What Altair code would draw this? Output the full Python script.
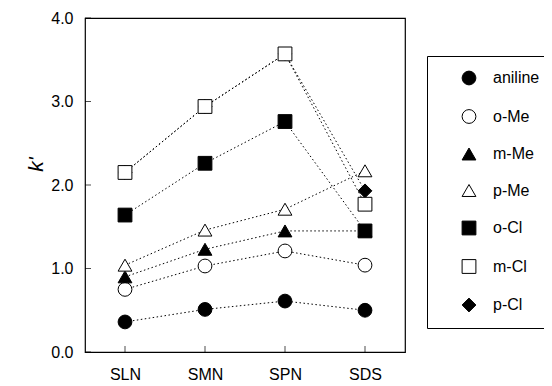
import altair as alt
import pandas as pd

categories = ["SLN", "SMN", "SPN", "SDS"]
series = ["aniline", "o-Me", "m-Me", "p-Me", "o-Cl", "m-Cl", "p-Cl"]
aniline = [0.36, 0.51, 0.61, 0.50]
o_me = [0.75, 1.03, 1.21, 1.04]
m_me = [0.90, 1.23, 1.45, 1.45]
p_me = [1.04, 1.46, 1.71, 2.17]
o_cl = [1.64, 2.26, 2.76, 1.45]
m_cl = [2.15, 2.94, 3.57, 1.77]
p_cl = [2.15, 2.94, 3.57, 1.93]
y_ticks = [0, 1, 2, 3, 4]

values = {"aniline": aniline, "o-Me": o_me, "m-Me": m_me, "p-Me": p_me,
          "o-Cl": o_cl, "m-Cl": m_cl, "p-Cl": p_cl}
draw_order = ["aniline", "o-Me", "m-Me", "p-Me", "o-Cl", "p-Cl", "m-Cl"]
rows = []
for s in draw_order:
    for c, v in zip(categories, values[s]):
        rows.append({"series": s, "cat": c, "k": v})
df = pd.DataFrame(rows)

shapes = ["circle", "circle", "triangle-up", "triangle-up", "square", "square", "diamond"]
fills = ["black", "white", "black", "white", "black", "white", "black"]
strokes = ["black"] * 7
sizes = [190, 190, 200, 200, 165, 165, 240]

xenc = alt.X("cat:N", sort=categories, scale=alt.Scale(type="point", padding=0.5),
             axis=alt.Axis(title=None, ticks=False, domain=False, labelAngle=0,
                           labelPadding=14, labelFontSize=16))
yenc = alt.Y("k:Q", scale=alt.Scale(domain=[0, 4], nice=False, zero=True),
             axis=alt.Axis(title="k'", values=y_ticks, format=".1f", ticks=False,
                           domain=False, grid=False, labelPadding=12, labelFontSize=16,
                           titleFontSize=21, titleFontStyle="italic",
                           titleFontWeight="normal", titleAngle=270,
                           titleX=-49, titleY=146, titleAlign="center",
                           titleBaseline="middle"))

leg = dict(title=None, symbolStrokeWidth=1)

lines = alt.Chart(df).mark_line(color="black", strokeWidth=1, strokeDash=[1.5, 2.5]).encode(
    x=xenc, y=yenc, detail="series:N"
)

points = alt.Chart(df).mark_point(filled=False, strokeWidth=1, opacity=1).encode(
    x=xenc, y=yenc,
    shape=alt.Shape("series:N", scale=alt.Scale(domain=series, range=shapes),
                    legend=alt.Legend(**leg)),
    fill=alt.Fill("series:N", scale=alt.Scale(domain=series, range=fills),
                  legend=alt.Legend(**leg)),
    stroke=alt.Stroke("series:N", scale=alt.Scale(domain=series, range=strokes),
                      legend=alt.Legend(**leg)),
    size=alt.Size("series:N", scale=alt.Scale(domain=series, range=sizes),
                  legend=alt.Legend(**leg)),
)

tick_df = pd.DataFrame({"t": y_ticks})
yticks = alt.Chart(tick_df).mark_tick(orient="horizontal", color="black", thickness=1, size=6).encode(
    y=alt.Y("t:Q", scale=alt.Scale(domain=[0, 4], nice=False)), x=alt.value(3)
)
xt_df = pd.DataFrame({"cat": categories})
xticks = alt.Chart(xt_df).mark_tick(orient="vertical", color="black", thickness=1, size=6).encode(
    x=alt.X("cat:N", sort=categories, scale=alt.Scale(type="point", padding=0.5)),
    y=alt.value(331)
)

chart = alt.layer(lines, yticks, xticks, points).properties(
    width=320, height=334,
    autosize=alt.AutoSizeParams(type="none"),
    padding={"left": 77, "top": 10, "right": 139, "bottom": 32},
).configure_view(stroke="black", strokeWidth=1.2).configure_axis(
    labelFont="Liberation Sans", titleFont="Liberation Sans", labelColor="black",
    titleColor="black"
).configure_legend(
    orient="none", legendX=342, legendY=38, padding=14, strokeColor="black",
    fillColor="white", labelFont="Liberation Sans", labelFontSize=16, labelColor="black",
    rowPadding=20.5, symbolOffset=20, labelOffset=16
)

chart.save("out.html", embed_options={"renderer": "svg", "actions": False})
